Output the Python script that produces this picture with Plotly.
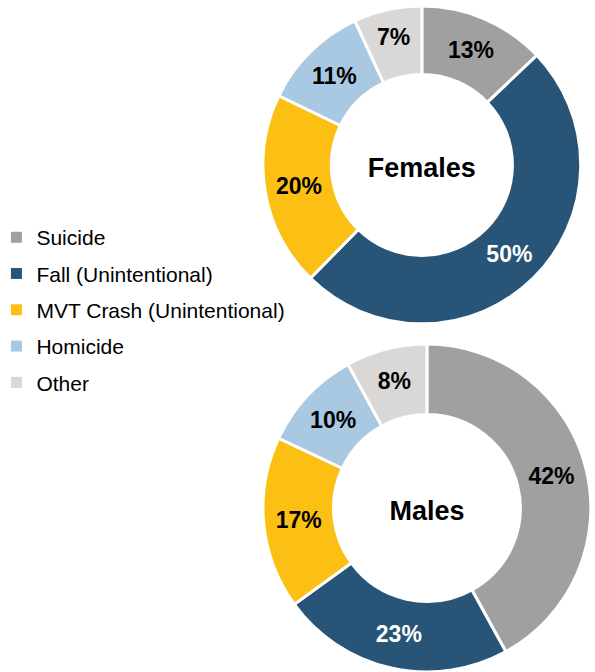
import plotly.graph_objects as go

labels = ["Suicide", "Fall (Unintentional)", "MVT Crash (Unintentional)", "Homicide", "Other"]
colors = ["#a0a0a0", "#285577", "#fcbf14", "#a9c8e1", "#d9d8d6"]
females = [13, 50, 20, 11, 7]
males = [42, 23, 17, 10, 8]

label_colors = ["black", "white", "black", "black", "black"]

fig = go.Figure()

def donut(vals, name, dom):
    return go.Pie(
        labels=labels, values=vals, name=name,
        text=[f"{v}%" for v in vals], textinfo="text",
        textposition="inside", insidetextorientation="horizontal",
        textfont=dict(family="Liberation Sans", size=23, color=label_colors, weight="bold"),
        marker=dict(colors=colors, line=dict(color="white", width=3)),
        hole=0.57, sort=False, direction="clockwise", rotation=0,
        domain=dom, showlegend=False,
        title=dict(text=f"<b>{name}</b>", position="middle center",
                   font=dict(family="Liberation Sans", size=27, color="black")),
    )

fig.add_trace(donut(females, "Females", dict(x=[0.442, 0.976], y=[0.518, 0.991])))
fig.add_trace(donut(males, "Males", dict(x=[0.442, 0.993], y=[0.0, 0.488])))

# legend entries as square markers
for lab, col in zip(labels, colors):
    fig.add_trace(go.Scatter(
        x=[None], y=[None], mode="markers", name=lab, legendgroup=lab,
        marker=dict(symbol="square", size=11, color=col),
    ))

fig.update_layout(
    width=595, height=672,
    margin=dict(l=0, r=0, t=0, b=0, autoexpand=False),
    paper_bgcolor="white", plot_bgcolor="white",
    xaxis=dict(visible=False), yaxis=dict(visible=False),
    legend=dict(x=-0.006, y=1 - 217 / 672, xanchor="left", yanchor="top",
                font=dict(family="Liberation Sans", size=21, color="black"),
                tracegroupgap=6, bgcolor="rgba(0,0,0,0)"),
)

# drop the default body margin so the figure sits at the page origin
fig.write_html("out.html", config={"displayModeBar": False},
               post_script="document.body.style.margin='0';")
